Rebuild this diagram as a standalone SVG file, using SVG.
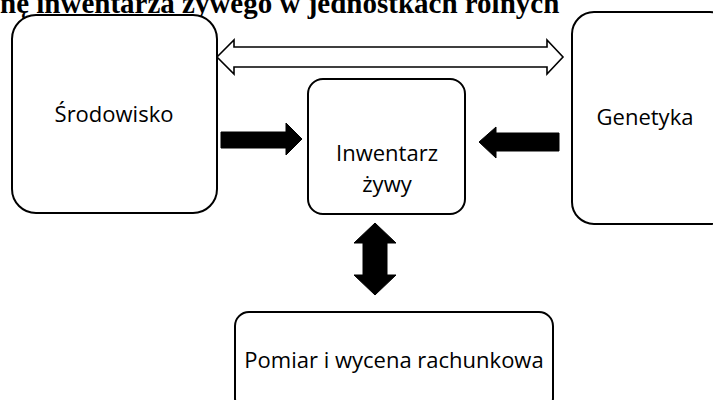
<svg xmlns="http://www.w3.org/2000/svg" width="713" height="400" viewBox="0 0 713 400">
  <style>
    .box { fill: #fff; stroke: #000; stroke-width: 2; }
    .label { font-family: "Open Sans", "Noto Sans", sans-serif; font-size: 22px; fill: #000; text-anchor: middle; }
    .title { font-family: "Liberation Serif", "Times New Roman", serif; font-size: 29px; font-weight: bold; fill: #000; }
    .solid { fill: #000; stroke: #000; stroke-width: 1; }
    .hollow { fill: #fff; stroke: #000; stroke-width: 1.6; stroke-linejoin: miter; }
  </style>
  <rect width="713" height="400" fill="#fff"/>
  <text class="title" x="0" y="13">nę inwentarza żywego w jednostkach rolnych</text>

  <g id="srodowisko">
    <rect class="box" x="12" y="15" width="205" height="198" rx="24"/>
    <text class="label" x="114" y="122">Środowisko</text>
  </g>
  <g id="genetyka">
    <rect class="box" x="572" y="12" width="160" height="212" rx="22"/>
    <text class="label" x="645" y="125">Genetyka</text>
  </g>
  <g id="inwentarz">
    <rect class="box" x="308" y="79" width="157" height="135" rx="15"/>
    <text class="label" x="387" y="161">Inwentarz</text>
    <text class="label" x="387" y="192">żywy</text>
  </g>
  <g id="pomiar">
    <rect class="box" x="235" y="312" width="318" height="100" rx="14"/>
    <text class="label" x="394" y="368">Pomiar i wycena rachunkowa</text>
  </g>

  <g id="connectors">
    <path class="hollow" d="M217,57 L234,40 L234,47 L547,47 L547,40 L563,57 L547,74 L547,67 L234,67 L234,74 Z"/>
    <path class="solid" d="M221,132 L286,132 L286,123 L302,139 L286,155 L286,148 L221,148 Z"/>
    <path class="solid" d="M559,133 L496,133 L496,127 L479,142 L496,158 L496,151 L559,151 Z"/>
    <path class="solid" d="M375,223 L396,243 L387,243 L387,275 L396,275 L375,295 L354,275 L363,275 L363,243 L354,243 Z"/>
  </g>
</svg>
